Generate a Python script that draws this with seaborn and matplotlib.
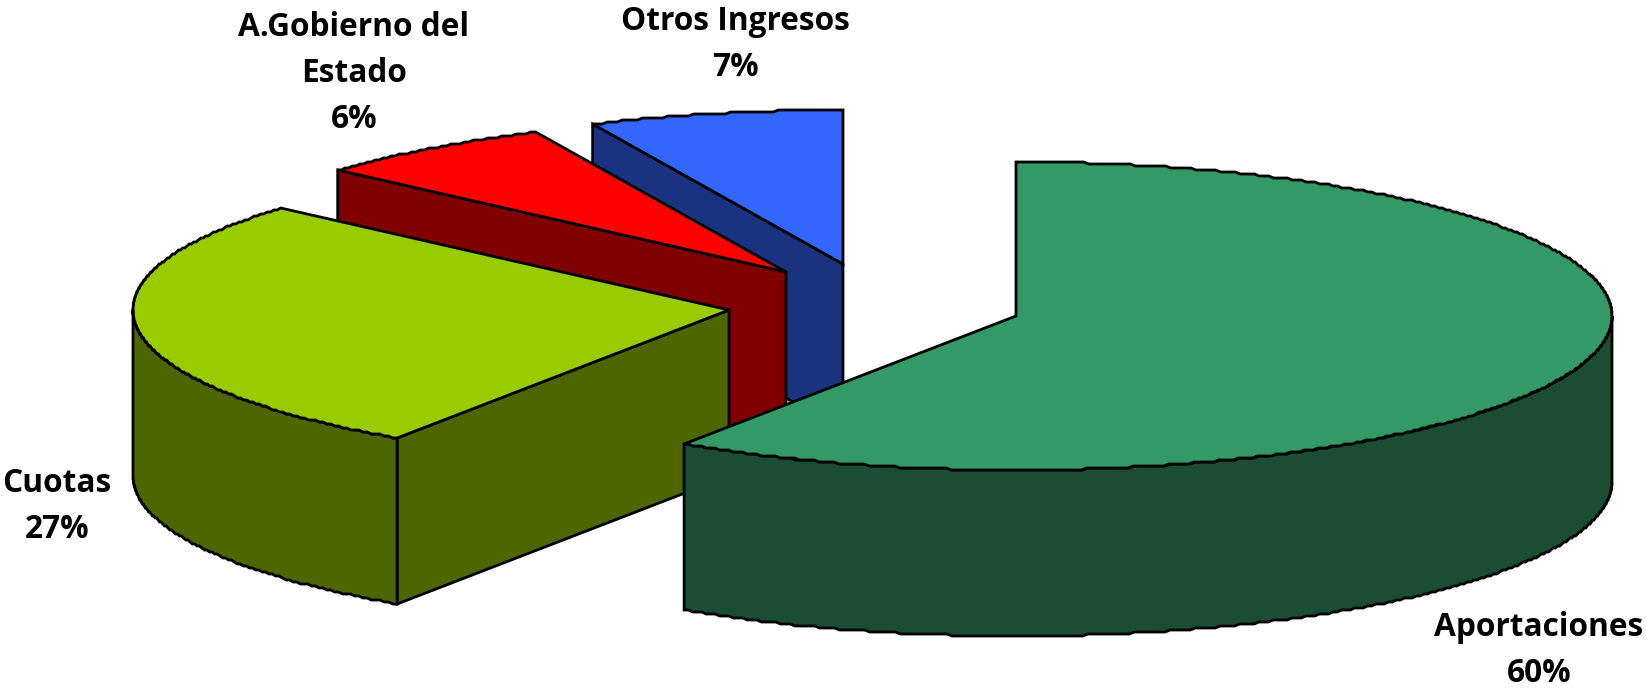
# PASTEL 3D CON PORCIONES SEPARADAS
# ---------------------------------
import numpy as np
import pandas as pd
import seaborn as sns
import matplotlib
matplotlib.use("Agg")
import matplotlib.pyplot as plt


# 1. DATOS:
# ---------
categorias = ['Aportaciones', 'Cuotas', 'A.Gobierno del\nEstado', 'Otros Ingresos']
etiquetas_pct = ['60%', '27%', '6%', '7%']
# Tamaño de cada porción (no de las etiquetas redondeadas):
valores = [59.4, 27.05, 6.65, 6.9]
colores_cara = ['#339966', '#99CC00', '#FF0000', '#3366FF']
colores_lado = ['#1A4D33', '#4D6600', '#800000', '#1A3380']

datos = pd.DataFrame({'categoria': categorias, 'valor': valores, 'pct': etiquetas_pct})
datos['fin'] = datos.valor.cumsum() / datos.valor.sum() * 360
datos['inicio'] = datos.fin.shift(1, fill_value=0)


# 2. GEOMETRÍA DEL PASTEL (en píxeles de la figura):
# --------------------------------------------------
RX, RY, ALTO = 596, 154, 166
centros = [(1016, 316), (729, 310), (786, 272), (843, 264)]
pos_etiquetas = [(1539, 650), (57, 506), (354, 74), (735, 44)]


def borde(cx, cy, t0, t1, dy=0):
    # Ángulos en sentido horario desde arriba. El redondeo imita el borde escalonado.
    t = np.radians(np.linspace(t0, t1, max(int(abs(t1 - t0) * 2), 2)))
    x = cx + RX * np.sin(t)
    y = cy - RY * np.cos(t)
    return x, np.round(y / 2) * 2 + dy


# 3. LA FIGURA:
# -------------
sns.set_theme(style="white")
plt.rcParams['font.family'] = ['Open Sans', 'DejaVu Sans']
fig = plt.figure(figsize=(16.46, 6.88), dpi=100)
ax = fig.add_axes([0, 0, 1, 1])
ax.set_xlim(0, 1646)
ax.set_ylim(688, 0)
ax.axis('off')

linea = dict(edgecolor='black', linewidth=2, joinstyle='miter')

# Se dibuja de atrás hacia adelante:
for i in reversed(range(len(datos))):
    fila = datos.iloc[i]
    cx, cy = centros[i]
    t0, t1 = fila.inicio, fila.fin

    # Cara radial del inicio de la porción
    if np.sin(np.radians(t0)) < -1e-6:
        xb, yb = borde(cx, cy, t0, t0 + 0.01)
        ax.fill([cx, xb[0], xb[0], cx], [cy, yb[0], yb[0] + ALTO, cy + ALTO],
                facecolor=colores_lado[i], **linea)

    # Pared exterior, sólo la parte que mira al frente
    a, b = max(t0, 90), min(t1, 270)
    if b > a:
        xb, yb = borde(cx, cy, a, b)
        ax.fill(np.r_[xb, xb[::-1]], np.r_[yb, yb[::-1] + ALTO],
                facecolor=colores_lado[i], **linea)

    # Cara de arriba
    xb, yb = borde(cx, cy, t0, t1)
    ax.fill(np.r_[cx, xb], np.r_[cy, yb], facecolor=colores_cara[i], **linea)

# Etiquetas
for i, fila in datos.iterrows():
    ax.text(pos_etiquetas[i][0], pos_etiquetas[i][1], fila.categoria + '\n' + fila.pct,
            ha='center', va='center', multialignment='center', color='black',
            fontsize=22.8, fontweight='bold', linespacing=1.52)

plt.savefig('out.png', dpi=100)
